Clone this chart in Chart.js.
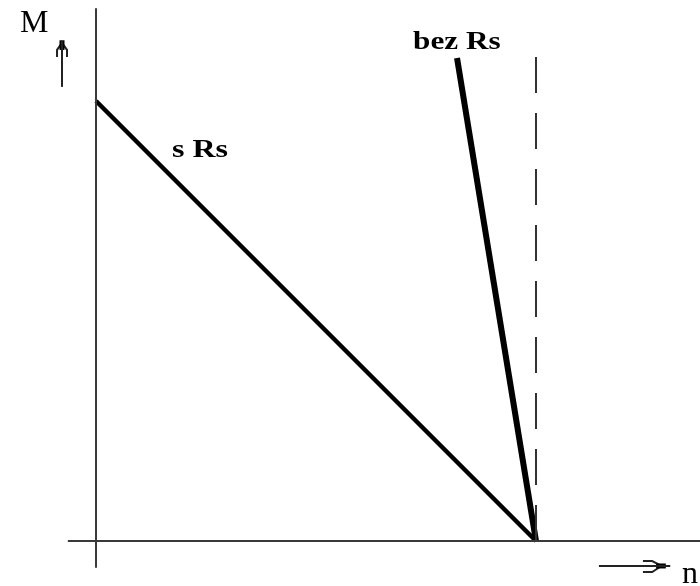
<!DOCTYPE html>
<html>
<head>
<meta charset="utf-8">
<script src="https://cdn.jsdelivr.net/npm/chart.js@4"></script>
<style>
    html, body { margin: 0; padding: 0; background: #fff; }
    #chart { display: block; }
</style>
</head>
<body>
<canvas id="chart" width="700" height="586"></canvas>
<script>
// Torque M vs speed n, relative units (n = 1 is synchronous speed)

// characteristic "s Rs" (with rotor resistance)
const sRsN = [0, 1];
const sRsM = [1, 0];

// characteristic "bez Rs" (without rotor resistance)
const bezRsN = [0.8205, 1];
const bezRsM = [1.0977, 0];

// dashed line at synchronous speed
const syncN = [1, 1];
const syncM = [0, 1.118];

// axes
const axisYN = [0, 0];
const axisYM = [-0.061, 1.211];
const axisXN = [-0.064, 1.373];
const axisXM = [0, 0];

// arrow next to M
const arrowMN = [-0.0773, -0.0773];
const arrowMM = [1.032, 1.136];
const arrowMTipN = [-0.0773, -0.0773];
const arrowMTipM = [1.116, 1.138];
const arrowMLeftN = [-0.0886, -0.0886, -0.0773];
const arrowMLeftM = [1.100, 1.116, 1.132];
const arrowMRightN = [-0.0659, -0.0659, -0.0773];
const arrowMRightM = [1.100, 1.116, 1.132];

// arrow next to n
const arrowNN = [1.143, 1.305];
const arrowNM = [-0.0568, -0.0568];
const arrowNTipN = [1.273, 1.295];
const arrowNTipM = [-0.0568, -0.0568];
const arrowNUpN = [1.243, 1.264, 1.285];
const arrowNUpM = [-0.0455, -0.0455, -0.0568];
const arrowNDownN = [1.243, 1.264, 1.285];
const arrowNDownM = [-0.0705, -0.0705, -0.0568];

// text labels: text, n, M
const labelText = ['M', 'bez Rs', 's Rs', 'n'];
const labelN = [-0.1727, 0.7205, 0.1727, 1.332];
const labelM = [1.1568, 1.1182, 0.8727, -0.0955];

function pts(xs, ys) {
    return xs.map((x, i) => ({ x: x, y: ys[i] }));
}

function lineSet(xs, ys, color, width, dash) {
    return {
        data: pts(xs, ys),
        showLine: true,
        borderColor: color,
        borderWidth: width,
        borderDash: dash || [],
        pointRadius: 0,
        fill: false,
        tension: 0
    };
}

// label styles
const labelFont = [
    '32px "Liberation Serif"',
    'bold 26px "Liberation Serif"',
    'bold 26px "Liberation Serif"',
    '32px "Liberation Serif"'
];
const labelStretch = [1, 1.2, 1.23, 1];

const textPlugin = {
    id: 'textLabels',
    afterDatasetsDraw(chart) {
        const ctx = chart.ctx;
        const xs = chart.scales.x;
        const ys = chart.scales.y;
        ctx.save();
        ctx.fillStyle = '#000';
        ctx.textBaseline = 'alphabetic';
        ctx.textAlign = 'left';
        labelText.forEach((t, i) => {
            const px = xs.getPixelForValue(labelN[i]);
            const py = ys.getPixelForValue(labelM[i]);
            ctx.save();
            ctx.translate(px, py);
            ctx.scale(labelStretch[i], 1);
            ctx.font = labelFont[i];
            ctx.fillText(t, 0, 0);
            ctx.restore();
        });
        ctx.restore();
    }
};

const axisColor = '#3a3a3a';

new Chart(document.getElementById('chart'), {
    type: 'scatter',
    data: {
        datasets: [
            lineSet(axisYN, axisYM, axisColor, 2),
            lineSet(axisXN, axisXM, axisColor, 2),
            lineSet(syncN, syncM, '#333', 2, [36, 20]),
            lineSet(sRsN, sRsM, '#000', 4.5),
            lineSet(bezRsN, bezRsM, '#000', 6),
            lineSet(arrowMN, arrowMM, '#222', 2),
            lineSet(arrowMTipN, arrowMTipM, '#000', 5),
            lineSet(arrowMLeftN, arrowMLeftM, '#222', 2),
            lineSet(arrowMRightN, arrowMRightM, '#222', 2),
            lineSet(arrowNN, arrowNM, '#222', 2),
            lineSet(arrowNTipN, arrowNTipM, '#000', 5),
            lineSet(arrowNUpN, arrowNUpM, '#222', 2),
            lineSet(arrowNDownN, arrowNDownM, '#222', 2)
        ]
    },
    options: {
        responsive: false,
        animation: false,
        devicePixelRatio: 1,
        layout: { padding: 0 },
        plugins: {
            legend: { display: false },
            tooltip: { enabled: false }
        },
        scales: {
            x: { type: 'linear', display: false, min: -0.2182, max: 1.3727 },
            y: { type: 'linear', display: false, min: -0.1023, max: 1.2295 }
        }
    },
    plugins: [textPlugin]
});
</script>
</body>
</html>
